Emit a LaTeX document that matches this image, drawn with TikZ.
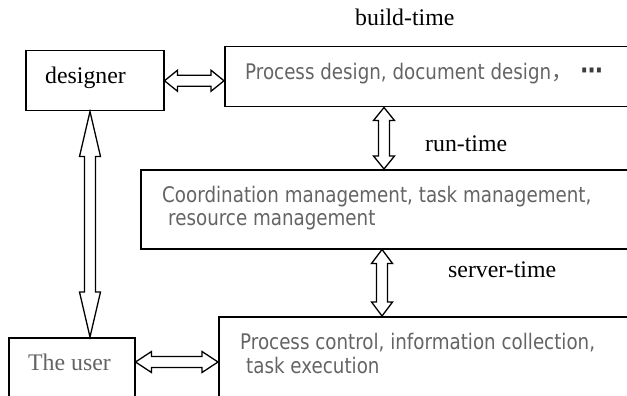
\documentclass[tikz,border=0pt]{standalone}
\usepackage{fontspec}
\setmainfont{Liberation Serif}
\newfontfamily\graysans{DejaVu Sans}[FakeStretch=0.85]
\newfontfamily\cjkfont{Noto Sans CJK SC}
\usetikzlibrary{calc}

\definecolor{labelgray}{RGB}{100,100,100}
\definecolor{dotgray}{RGB}{60,60,60}

\tikzset{
  box/.style={draw, line width=1.5pt, rectangle, inner sep=0pt, anchor=north west},
  serif label/.style={font=\fontsize{23.8}{28}\selectfont, anchor=base west, inner sep=0pt},
  sans text/.style={font=\graysans\fontsize{21.5}{25}\selectfont, text=labelgray,
                    anchor=base west, inner sep=0pt},
  hollow/.style={draw, line width=1.3pt, fill=white, line join=miter},
}

% hollow double-headed arrow from #1 to #2 with heads of length #3
\newcommand\hollowarrow[3]{%
  \path (#1) coordinate (ha-s) (#2) coordinate (ha-e);
  \path ($(ha-s)!#3!(ha-e)$) coordinate (ha-p)
        ($(ha-e)!#3!(ha-s)$) coordinate (ha-q);
  \draw[hollow] (ha-s)
    -- ($(ha-p)!10.5pt!90:(ha-e)$) -- ($(ha-p)!5.5pt!90:(ha-e)$)
    -- ($(ha-q)!5.5pt!-90:(ha-s)$) -- ($(ha-q)!10.5pt!-90:(ha-s)$)
    -- (ha-e)
    -- ($(ha-q)!10.5pt!90:(ha-s)$) -- ($(ha-q)!5.5pt!90:(ha-s)$)
    -- ($(ha-p)!5.5pt!-90:(ha-e)$) -- ($(ha-p)!10.5pt!-90:(ha-e)$)
    -- cycle;
}

\begin{document}
\begin{tikzpicture}[x=1pt, y=-1pt]
  \useasboundingbox (0,0) rectangle (627,396);
  \clip (0,0) rectangle (627,396);

  % boxes
  \node[box, minimum width=138pt, minimum height=60pt] (designer) at (25,50) {};
  \node[box, minimum width=430pt, minimum height=60pt] (topbox) at (224,46) {};
  \node[box, minimum width=510pt, minimum height=79pt] (midbox) at (140,169) {};
  \node[box, minimum width=430pt, minimum height=100pt] (execbox) at (218,316) {};
  \node[box, minimum width=126pt, minimum height=80pt] (user) at (8,337) {};

  % labels
  \node[serif label] (buildt) at (355,26) {build-time};
  \node[serif label] (designerlbl) at (45,84) {designer};
  \node[serif label] (runt) at (425,151) {run-time};
  \node[serif label] (servert) at (448,277) {server-time};
  \node[serif label, text=labelgray] (userlbl) at (28,370) {The user};

  \node[sans text] (designtxt) at (245,80)
    {Process design, document design{\cjkfont ，}\hspace{8pt}{\fontsize{26}{26}\selectfont\bfseries\color{dotgray}⋯}};
  \node[sans text] (coordtxt) at (162,202) {Coordination management, task management,};
  \node[sans text] (restxt) at (168,225) {resource management};
  \node[sans text] (ctrltxt) at (240,349) {Process control, information collection,};
  \node[sans text] (tasktxt) at (246,373) {task execution};

  % connector anchor points
  \coordinate (rt1) at ([xshift=160pt]topbox.south west);
  \coordinate (rt2) at (rt1 |- midbox.north);
  \coordinate (st1) at ([xshift=242pt]midbox.south west);
  \coordinate (st2) at (st1 |- execbox.north);
  \coordinate (du1) at ([xshift=65pt]designer.south west);
  \coordinate (du2) at (du1 |- user.north);
  \coordinate (ue1) at ([yshift=-25pt]user.north east);
  \coordinate (ue2) at (ue1 -| execbox.west);
  \coordinate (dt2) at (designer.east -| topbox.west);

  % connectors
  \hollowarrow{designer.east}{dt2}{13pt}
  \hollowarrow{rt1}{rt2}{13pt}
  \hollowarrow{st1}{st2}{14pt}
  \hollowarrow{du1}{du2}{45pt}
  \hollowarrow{ue1}{ue2}{16pt}
\end{tikzpicture}
\end{document}
